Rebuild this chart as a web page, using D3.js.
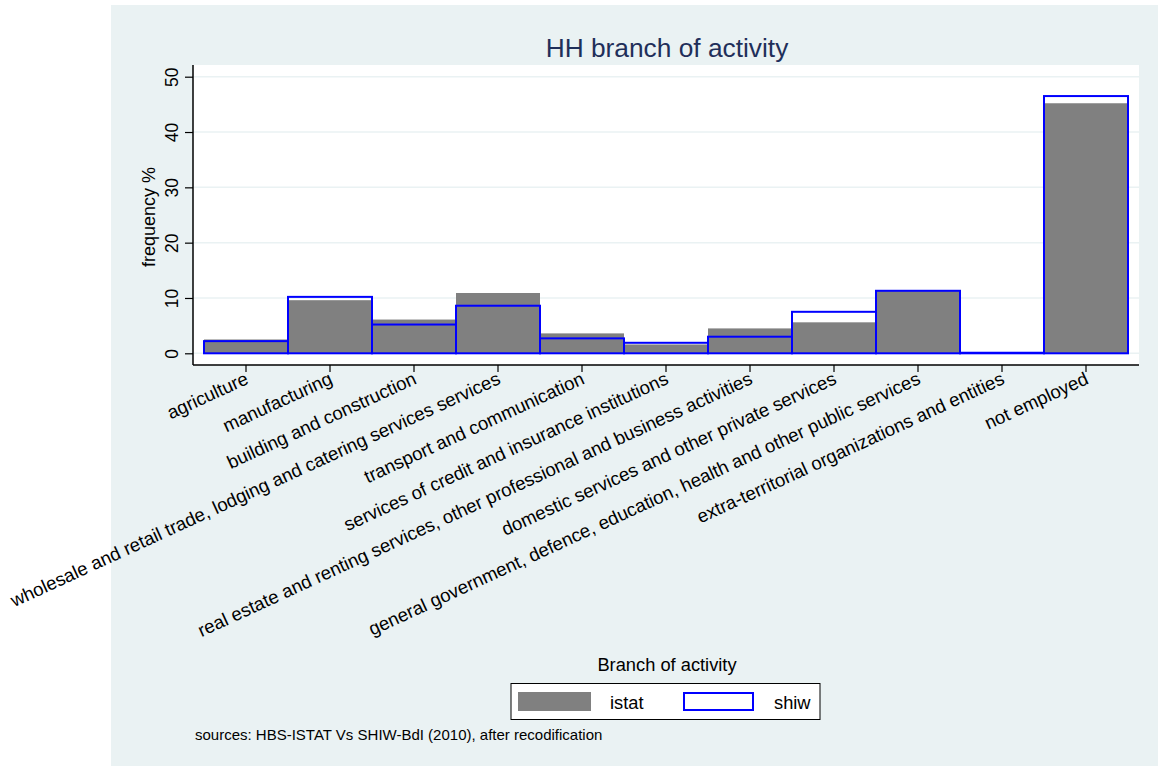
<!DOCTYPE html>
<html>
<head>
<meta charset="utf-8">
<script src="https://cdn.jsdelivr.net/npm/d3@7"></script>
<style>
  html, body { margin: 0; padding: 0; background: #ffffff; }
  svg { display: block; }
  text { font-family: "Liberation Sans", Arial, Helvetica, sans-serif; }
</style>
</head>
<body>
<svg id="chart" width="1158" height="766"></svg>
<script>
// Household head branch of activity: ISTAT vs SHIW frequencies (%)
const categories = [
  "agriculture",
  "manufacturing",
  "building and construction",
  "wholesale and retail trade, lodging and catering services services",
  "transport and communication",
  "services of credit and insurance institutions",
  "real estate and renting services, other professional and business activities",
  "domestic services and other private services",
  "general government, defence, education, health and other public services",
  "extra-territorial organizations and entities",
  "not employed"
];
const istat = [2.5, 9.6, 6.1, 10.9, 3.6, 1.6, 4.5, 5.6, 11.4, 0.1, 45.2];
const shiw  = [2.2, 10.2, 5.2, 8.6, 2.7, 1.9, 3.0, 7.5, 11.3, 0.1, 46.5];
const yTicks = [0, 10, 20, 30, 40, 50];

const titleText = "HH branch of activity";
const yTitle = "frequency %";
const legendTitle = "Branch of activity";
const seriesNames = ["istat", "shiw"];
const noteText = "sources: HBS-ISTAT Vs SHIW-BdI (2010), after recodification";

const svg = d3.select("#chart");

// graph region
const region = { x: 111, y: 5, w: 1047, h: 761 };
const plot = { left: 193, right: 1139, top: 65, bottom: 365 };

svg.append("rect")
  .attr("x", region.x).attr("y", region.y)
  .attr("width", region.w).attr("height", region.h)
  .attr("fill", "#eaf2f3");

svg.append("rect")
  .attr("x", plot.left).attr("y", plot.top)
  .attr("width", plot.right - plot.left).attr("height", plot.bottom - plot.top)
  .attr("fill", "#ffffff");

const x = d3.scaleBand()
  .domain(categories)
  .range([plot.left + 11, plot.right - 11])
  .padding(0);

const y = d3.scaleLinear()
  .domain([0, 50])
  .range([353.3, 76.7]);

// horizontal grid
svg.append("g")
  .selectAll("line")
  .data(yTicks)
  .join("line")
  .attr("x1", plot.left).attr("x2", plot.right)
  .attr("y1", d => y(d)).attr("y2", d => y(d))
  .attr("stroke", "#eaf2f3")
  .attr("stroke-width", 1.5);

// istat: filled bars
svg.append("g")
  .selectAll("rect")
  .data(categories)
  .join("rect")
  .attr("x", d => x(d))
  .attr("width", x.bandwidth())
  .attr("y", (d, i) => y(istat[i]))
  .attr("height", (d, i) => y(0) - y(istat[i]))
  .attr("fill", "#808080");

// shiw: outlined bars
svg.append("g")
  .selectAll("rect")
  .data(categories)
  .join("rect")
  .attr("x", d => x(d))
  .attr("width", x.bandwidth())
  .attr("y", (d, i) => y(shiw[i]))
  .attr("height", (d, i) => y(0) - y(shiw[i]))
  .attr("fill", "none")
  .attr("stroke", "#0000ff")
  .attr("stroke-width", 2);

// y axis
const yAxis = d3.axisLeft(y).tickValues(yTicks).tickSize(8).tickPadding(0);
const gy = svg.append("g")
  .attr("transform", `translate(${plot.left},0)`)
  .call(yAxis);
gy.select(".domain").remove();
gy.selectAll(".tick line").attr("stroke", "#000").attr("stroke-width", 1.2);
gy.selectAll(".tick text")
  .attr("font-size", 17.5)
  .attr("fill", "#000")
  .attr("text-anchor", "middle")
  .attr("x", null).attr("dy", null)
  .attr("transform", "translate(-15,0) rotate(-90)");
svg.append("line")
  .attr("x1", plot.left).attr("x2", plot.left)
  .attr("y1", plot.top).attr("y2", plot.bottom)
  .attr("stroke", "#000").attr("stroke-width", 1.5);

// x axis
const xAxis = d3.axisBottom(x).tickSize(7).tickPadding(0);
const gx = svg.append("g")
  .attr("transform", `translate(0,${plot.bottom})`)
  .call(xAxis);
gx.select(".domain").remove();
gx.selectAll(".tick line").attr("stroke", "#000").attr("stroke-width", 1.2);
gx.selectAll(".tick text")
  .attr("font-size", 18.6)
  .attr("fill", "#000")
  .attr("text-anchor", "end")
  .attr("y", null)
  .attr("transform", "translate(-2,6) rotate(-24.7)")
  .attr("dy", "0.72em");
svg.append("line")
  .attr("x1", plot.left).attr("x2", plot.right)
  .attr("y1", plot.bottom).attr("y2", plot.bottom)
  .attr("stroke", "#000").attr("stroke-width", 1.5);

// titles
const plotCx = (plot.left + plot.right) / 2;
svg.append("text")
  .attr("x", plotCx + 1).attr("y", 57)
  .attr("text-anchor", "middle")
  .attr("font-size", 26.3)
  .attr("fill", "#1f2f5a")
  .text(titleText);

svg.append("text")
  .attr("transform", `translate(155,${(plot.top + plot.bottom) / 2 + 2}) rotate(-90)`)
  .attr("text-anchor", "middle")
  .attr("font-size", 18)
  .attr("fill", "#000")
  .text(yTitle);

// legend
svg.append("text")
  .attr("x", plotCx + 1).attr("y", 671)
  .attr("text-anchor", "middle")
  .attr("font-size", 18.3)
  .attr("fill", "#000")
  .text(legendTitle);

const lg = svg.append("g");
lg.append("rect")
  .attr("x", 511).attr("y", 683.5)
  .attr("width", 309).attr("height", 36)
  .attr("fill", "#fff").attr("stroke", "#000").attr("stroke-width", 1);
lg.append("rect")
  .attr("x", 518).attr("y", 692)
  .attr("width", 73).attr("height", 19)
  .attr("fill", "#808080");
lg.append("rect")
  .attr("x", 684).attr("y", 693)
  .attr("width", 69).attr("height", 17)
  .attr("fill", "none").attr("stroke", "#0000ff").attr("stroke-width", 2);
lg.append("text")
  .attr("x", 610).attr("y", 709)
  .attr("font-size", 18.3).attr("fill", "#000")
  .text(seriesNames[0]);
lg.append("text")
  .attr("x", 774).attr("y", 709)
  .attr("font-size", 18.3).attr("fill", "#000")
  .text(seriesNames[1]);

// note
svg.append("text")
  .attr("x", 195).attr("y", 740)
  .attr("font-size", 15)
  .attr("fill", "#000")
  .text(noteText);
</script>
</body>
</html>
